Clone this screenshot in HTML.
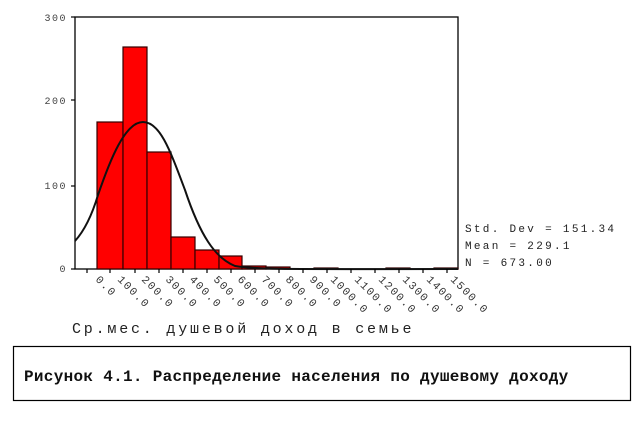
<!DOCTYPE html>
<html><head><meta charset="utf-8"><style>
body{margin:0;background:#fff;width:640px;height:418px;overflow:hidden}
</style></head><body>
<svg width="640" height="418" viewBox="0 0 640 418" xmlns="http://www.w3.org/2000/svg" font-family="Liberation Mono, monospace">
<rect x="75" y="17" width="383" height="252" fill="none" stroke="#000" stroke-width="1.3"/>
<g fill="#444" font-size="10" letter-spacing="1.5" text-anchor="end">
<text x="67" y="21">300</text><text x="67" y="104">200</text><text x="67" y="189">100</text><text x="67" y="272">0</text>
</g>
<g stroke="#000" stroke-width="1.2">
<line x1="71" y1="17" x2="75" y2="17"/><line x1="71" y1="100" x2="75" y2="100"/><line x1="71" y1="186" x2="75" y2="186"/><line x1="71" y1="269" x2="75" y2="269"/>
</g>
<g fill="#f00" stroke="#300" stroke-width="1.2">
<rect x="97" y="122" width="26" height="147"/>
<rect x="123" y="47" width="24" height="222"/>
<rect x="147" y="152" width="24" height="117"/>
<rect x="171" y="237" width="24" height="32"/>
<rect x="195" y="250" width="24" height="19"/>
<rect x="219" y="256" width="23" height="13"/>
<rect x="242" y="266" width="24" height="3"/>
<rect x="266" y="267" width="24" height="2"/>
<rect x="314" y="268" width="24" height="1"/>
<rect x="386" y="268" width="24" height="1"/>
<rect x="434" y="268" width="24" height="1"/>
</g>
<path d="M75,241 C85,230 92,215 98,195 C110,160 125,122 143,122 C160,122 170,150 185,190 C200,235 215,258 235,266 C260,270 300,269 458,269" fill="none" stroke="#111" stroke-width="2"/>
<g stroke="#000" stroke-width="1.2">
<line x1="87" y1="269" x2="87" y2="273"/><line x1="110" y1="269" x2="110" y2="273"/><line x1="135" y1="269" x2="135" y2="273"/><line x1="159" y1="269" x2="159" y2="273"/><line x1="183" y1="269" x2="183" y2="273"/><line x1="207" y1="269" x2="207" y2="273"/><line x1="231" y1="269" x2="231" y2="273"/><line x1="255" y1="269" x2="255" y2="273"/><line x1="279" y1="269" x2="279" y2="273"/><line x1="303" y1="269" x2="303" y2="273"/><line x1="327" y1="269" x2="327" y2="273"/><line x1="351" y1="269" x2="351" y2="273"/><line x1="375" y1="269" x2="375" y2="273"/><line x1="399" y1="269" x2="399" y2="273"/><line x1="423" y1="269" x2="423" y2="273"/><line x1="447" y1="269" x2="447" y2="273"/>
</g>
<g fill="#333" font-size="11" letter-spacing="1.5">
<text transform="translate(95,280) rotate(45)">0.0</text>
<text transform="translate(117,280) rotate(45)">100.0</text>
<text transform="translate(141,280) rotate(45)">200.0</text>
<text transform="translate(165,280) rotate(45)">300.0</text>
<text transform="translate(189,280) rotate(45)">400.0</text>
<text transform="translate(213,280) rotate(45)">500.0</text>
<text transform="translate(237,280) rotate(45)">600.0</text>
<text transform="translate(261,280) rotate(45)">700.0</text>
<text transform="translate(285,280) rotate(45)">800.0</text>
<text transform="translate(309,280) rotate(45)">900.0</text>
<text transform="translate(330,280) rotate(45)">1000.0</text>
<text transform="translate(354,280) rotate(45)">1100.0</text>
<text transform="translate(378,280) rotate(45)">1200.0</text>
<text transform="translate(402,280) rotate(45)">1300.0</text>
<text transform="translate(426,280) rotate(45)">1400.0</text>
<text transform="translate(450,280) rotate(45)">1500.0</text>
</g>
<text x="72" y="333" font-size="15" letter-spacing="2.8" fill="#222">Ср.мес. душевой доход в семье</text>
<g fill="#222" font-size="11" letter-spacing="2.3">
<text x="465" y="232">Std. Dev = 151.34</text>
<text x="465" y="249">Mean = 229.1</text>
<text x="465" y="266">N = 673.00</text>
</g>
<rect x="13.5" y="346.5" width="617" height="54" fill="none" stroke="#000" stroke-width="1.2"/>
<text x="24" y="381" font-size="16" font-weight="bold" letter-spacing="0.3" fill="#111">Рисунок 4.1. Распределение населения по душевому доходу</text>
</svg>
</body></html>
